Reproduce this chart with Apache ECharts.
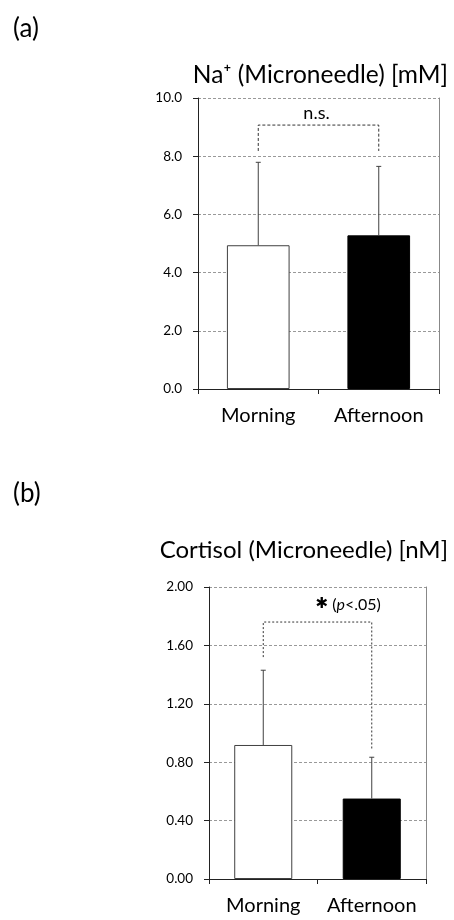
<!DOCTYPE html>
<html><head><meta charset="utf-8">
<script src="https://cdn.jsdelivr.net/npm/echarts@6/dist/echarts.min.js"></script>
<style>html,body{margin:0;padding:0;background:#fff}#c{width:454px;height:920px}</style>
</head><body><div id="c"></div>
<script>
// ---- data ----
const categories = ['Morning', 'Afternoon'];
// (a) Na+ (Microneedle) [mM]
const naMean = [4.94, 5.28];
const naSD = [2.85, 2.37];
const naTicks = [0, 2, 4, 6, 8, 10];
const naBracketLeg = [8.18, 8.18];
const naBracketTop = 9.07;
const naLabelY = 9.48;
// (b) Cortisol (Microneedle) [nM]
const cortMean = [0.918, 0.551];
const cortSD = [0.512, 0.283];
const cortTicks = [0, 0.4, 0.8, 1.2, 1.6, 2.0];
const cortBracketLeg = [1.52, 0.884];
const cortBracketTop = 1.76;
const cortLabelY = 1.88;

const FONT = 'Lato';
const AXIS = '#222';
const GRIDC = '#999';
const TXT = '#000';

function barData(means) {
  return means.map((v, i) => ({
    value: v,
    itemStyle: i === 0 ? { color: '#fff', borderColor: '#404040', borderWidth: 1 }
                       : { color: '#000', borderColor: '#000', borderWidth: 1 }
  }));
}
function errData(means, sds) { return means.map((m, i) => [i, m, sds[i]]); }
function bracketData(legs, top) {
  return [[0, legs[0]], [0, top], [1, top], [1, legs[1]]];
}
function renderErr(params, api) {
  const x = api.value(0), m = api.value(1), s = api.value(2);
  const p0 = api.coord([x, m]);
  const p1 = api.coord([x, m + s]);
  const st = { stroke: '#404040', lineWidth: 1 };
  return {
    type: 'group',
    children: [
      { type: 'line', shape: { x1: p0[0], y1: p0[1], x2: p1[0], y2: p1[1] }, style: st },
      { type: 'line', shape: { x1: p1[0] - 2.5, y1: p1[1], x2: p1[0] + 2.5, y2: p1[1] }, style: st }
    ]
  };
}

function xAxisCfg(gi) {
  return {
    type: 'category', gridIndex: gi, data: categories,
    axisLine: { lineStyle: { color: AXIS, width: 1 } },
    axisTick: { show: true, length: 5, interval: 0, lineStyle: { color: AXIS } },
    axisLabel: { fontFamily: FONT, fontSize: 20, color: TXT, margin: 17, interval: 0, hideOverlap: false }
  };
}
function yAxisCfg(gi, ticks, dec) {
  return {
    type: 'value', gridIndex: gi, min: ticks[0], max: ticks[ticks.length - 1],
    interval: ticks[1] - ticks[0],
    axisLine: { show: true, lineStyle: { color: AXIS, width: 1 } },
    axisTick: { show: true, length: 5, lineStyle: { color: AXIS } },
    axisLabel: { fontFamily: FONT, fontSize: 13.5, color: TXT, margin: 16,
                 formatter: v => v.toFixed(dec) },
    splitLine: { show: true, lineStyle: { color: GRIDC, type: [3, 2], width: 1 } }
  };
}
function yRightCfg(gi, ticks) {
  return {
    type: 'value', gridIndex: gi, position: 'right', min: ticks[0], max: ticks[ticks.length - 1],
    axisLine: { show: true, lineStyle: { color: '#888', width: 1 } },
    axisTick: { show: false }, axisLabel: { show: false }, splitLine: { show: false }
  };
}

const chart = echarts.init(document.getElementById('c'), null, { renderer: 'canvas' });
const option = {
  animation: false,
  backgroundColor: '#fff',
  grid: [
    { left: 198, top: 98, width: 241, height: 291 },
    { left: 209, top: 587, width: 217, height: 292 }
  ],
  xAxis: [xAxisCfg(0), xAxisCfg(1)],
  yAxis: [yAxisCfg(0, naTicks, 1), yAxisCfg(1, cortTicks, 2), yRightCfg(0, naTicks), yRightCfg(1, cortTicks)],
  series: [
    { type: 'bar', xAxisIndex: 0, yAxisIndex: 0, data: barData(naMean), barWidth: '52%' },
    { type: 'bar', xAxisIndex: 1, yAxisIndex: 1, data: barData(cortMean), barWidth: '53.5%' },
    { type: 'custom', xAxisIndex: 0, yAxisIndex: 0, data: errData(naMean, naSD), renderItem: renderErr, z: 5 },
    { type: 'custom', xAxisIndex: 1, yAxisIndex: 1, data: errData(cortMean, cortSD), renderItem: renderErr, z: 5 },
    { type: 'line', xAxisIndex: 0, yAxisIndex: 0, data: bracketData(naBracketLeg, naBracketTop),
      symbol: 'none', lineStyle: { color: '#333', width: 1, type: [3, 2] }, z: 6 },
    { type: 'line', xAxisIndex: 1, yAxisIndex: 1, data: bracketData(cortBracketLeg, cortBracketTop),
      symbol: 'none', lineStyle: { color: '#333', width: 1, type: [2, 2] }, z: 6 }
  ]
};
chart.setOption(option);

const pA0 = chart.convertToPixel({ xAxisIndex: 0, yAxisIndex: 0 }, [0, naLabelY]);
const pA1 = chart.convertToPixel({ xAxisIndex: 0, yAxisIndex: 0 }, [1, naLabelY]);
const pB0 = chart.convertToPixel({ xAxisIndex: 1, yAxisIndex: 1 }, [0, cortLabelY]);
const pB1 = chart.convertToPixel({ xAxisIndex: 1, yAxisIndex: 1 }, [1, cortLabelY]);

chart.setOption({
  graphic: [
    { type: 'text', x: 13, y: 29, style: { text: '(a)', fontFamily: FONT, fontSize: 26, fill: TXT, verticalAlign: 'middle' } },
    { type: 'text', x: 13, y: 494, style: { text: '(b)', fontFamily: FONT, fontSize: 26, fill: TXT, verticalAlign: 'middle' } },
    { type: 'text', x: 448, y: 75, style: { text: 'Na⁺ (Microneedle) [mM]', fontFamily: FONT, fontSize: 24.5, fill: TXT, align: 'right', verticalAlign: 'middle' } },
    { type: 'text', x: 448, y: 550, style: { text: 'Cortisol (Microneedle) [nM]', fontFamily: FONT, fontSize: 24, fill: TXT, align: 'right', verticalAlign: 'middle' } },
    { type: 'text', x: (pA0[0] + pA1[0]) / 2 - 2, y: pA0[1], style: { text: 'n.s.', fontFamily: FONT, fontSize: 18, fill: TXT, align: 'center', verticalAlign: 'middle' } },
    { type: 'text', x: (pB0[0] + pB1[0]) / 2 - 2, y: pB0[1], style: {
        text: '{s|✱} ({i|p}<.05)', fontFamily: FONT, fontSize: 16, fill: TXT, align: 'left', verticalAlign: 'middle',
        rich: { s: { fontFamily: 'DejaVu Sans', fontSize: 15, fontWeight: 'bold', fill: TXT }, i: { fontFamily: FONT, fontStyle: 'italic', fontSize: 16, fill: TXT } } } }
  ]
});
</script></body></html>
